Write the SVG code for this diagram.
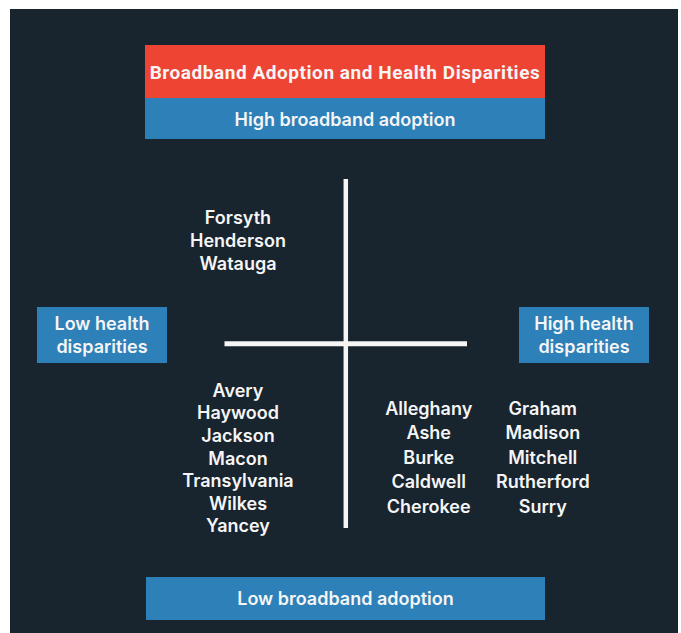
<svg xmlns="http://www.w3.org/2000/svg" width="681" height="633" viewBox="0 0 681 633">
<style>
.t{font-family:Inter,"Liberation Sans",sans-serif;fill:#f5f5f5;text-anchor:middle;font-weight:600}
.title{font-family:Roboto,"Liberation Sans",sans-serif;font-size:19px;font-weight:700;letter-spacing:0.55px}
.lab{font-size:18px}
.c{font-size:18px}
.box{fill:#2e80b8}
</style>
<rect x="0" y="0" width="681" height="633" fill="#ffffff"/>
<rect x="10" y="9" width="668" height="624" fill="#18242e"/>
<g id="title">
<rect x="145" y="45" width="400" height="53" fill="#ee4434"/>
<text class="t title" x="345" y="79">Broadband Adoption and Health Disparities</text>
</g>
<g id="high-broadband">
<rect class="box" x="145" y="98" width="400" height="41"/>
<text class="t lab" x="345" y="126">High broadband adoption</text>
</g>
<g id="low-broadband">
<rect class="box" x="146" y="577" width="399" height="43"/>
<text class="t lab" x="345.5" y="605">Low broadband adoption</text>
</g>
<g id="low-health">
<rect class="box" x="37" y="307" width="130" height="56"/>
<text class="t lab" x="102" y="329.5">Low health</text>
<text class="t lab" x="102" y="352.5">disparities</text>
</g>
<g id="high-health">
<rect class="box" x="519" y="307" width="130" height="56"/>
<text class="t lab" x="584" y="329.5">High health</text>
<text class="t lab" x="584" y="352.5">disparities</text>
</g>
<g id="connectors">
<line x1="345.8" y1="179" x2="345.8" y2="528" stroke="#f5f5f5" stroke-width="4.5"/>
<line x1="224.5" y1="343.8" x2="467" y2="343.8" stroke="#f5f5f5" stroke-width="5"/>
</g>
<g id="q-top-left">
<text class="t c" x="238" y="224">Forsyth</text>
<text class="t c" x="238" y="247">Henderson</text>
<text class="t c" x="238" y="270">Watauga</text>
</g>
<g id="q-bottom-left">
<text class="t c" x="238" y="396.7">Avery</text>
<text class="t c" x="238" y="419.3">Haywood</text>
<text class="t c" x="238" y="441.9">Jackson</text>
<text class="t c" x="238" y="464.5">Macon</text>
<text class="t c" x="238" y="487.1">Transylvania</text>
<text class="t c" x="238" y="509.7">Wilkes</text>
<text class="t c" x="238" y="532.3">Yancey</text>
</g>
<g id="q-bottom-right-a">
<text class="t c" x="428.7" y="415">Alleghany</text>
<text class="t c" x="428.7" y="439.4">Ashe</text>
<text class="t c" x="428.7" y="463.8">Burke</text>
<text class="t c" x="428.7" y="488.2">Caldwell</text>
<text class="t c" x="428.7" y="512.6">Cherokee</text>
</g>
<g id="q-bottom-right-b">
<text class="t c" x="542.8" y="415">Graham</text>
<text class="t c" x="542.8" y="439.4">Madison</text>
<text class="t c" x="542.8" y="463.8">Mitchell</text>
<text class="t c" x="542.8" y="488.2">Rutherford</text>
<text class="t c" x="542.8" y="512.6">Surry</text>
</g>
</svg>
